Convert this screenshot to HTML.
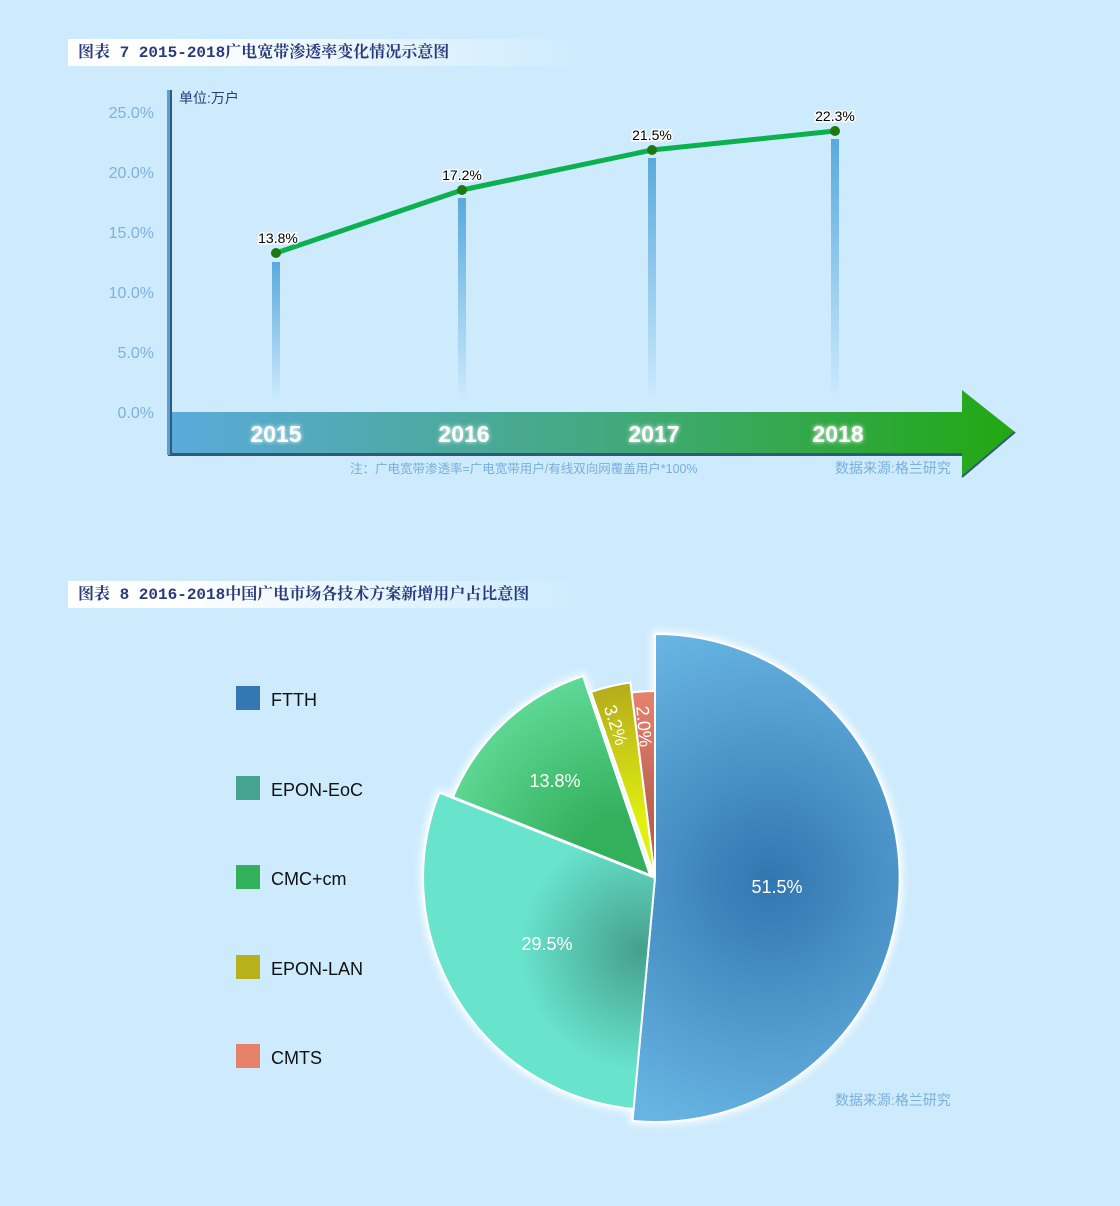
<!DOCTYPE html>
<html><head><meta charset="utf-8"><style>
body{margin:0;width:1120px;height:1206px;background:#cdebfd;overflow:hidden;font-family:"Liberation Sans","Noto Sans CJK SC",sans-serif}
.t{position:absolute;left:68px;height:27px;width:520px;background:linear-gradient(90deg,#fff 0%,#fff 20%,#cdebfd 100%);font-family:"Liberation Mono","Noto Serif CJK SC",serif;font-weight:bold;color:#2b3b7a;font-size:16px;line-height:28px;padding-left:10px;box-sizing:border-box}
</style></head><body>
<div class="t" style="top:39px">图表 7 2015-2018广电宽带渗透率变化情况示意图</div>
<div class="t" style="top:581px">图表 8 2016-2018中国广电市场各技术方案新增用户占比意图</div>
<svg width="1120" height="1206" style="position:absolute;left:0;top:0">
<defs>
<linearGradient id="bar" x1="0" y1="0" x2="0" y2="1"><stop offset="0" stop-color="#5aa9dc"/><stop offset="1" stop-color="#5aa9dc" stop-opacity="0"/></linearGradient>
<linearGradient id="band" x1="0" y1="0" x2="1" y2="0"><stop offset="0" stop-color="#5aaadb"/><stop offset="0.5" stop-color="#44a981"/><stop offset="1" stop-color="#22a812"/></linearGradient>
<filter id="glow" x="-20%" y="-20%" width="140%" height="140%"><feGaussianBlur stdDeviation="2"/></filter>
<filter id="pglow" x="-10%" y="-10%" width="120%" height="120%"><feGaussianBlur stdDeviation="4"/></filter>
<radialGradient id="g1" cx="770" cy="880" r="260" gradientUnits="userSpaceOnUse"><stop offset="0" stop-color="#3276b0"/><stop offset="1" stop-color="#67b4e2"/></radialGradient>
<radialGradient id="g2" cx="640" cy="950" r="200" gradientUnits="userSpaceOnUse"><stop offset="0" stop-color="#45a08c"/><stop offset="0.6" stop-color="#68e3cc"/><stop offset="1" stop-color="#68e3cc"/></radialGradient>
<radialGradient id="g3" cx="620" cy="860" r="210" gradientUnits="userSpaceOnUse"><stop offset="0.2" stop-color="#33b05c"/><stop offset="1" stop-color="#66e0a0"/></radialGradient>
<radialGradient id="g4" cx="655" cy="878" r="197" gradientUnits="userSpaceOnUse"><stop offset="0.3" stop-color="#e0f010"/><stop offset="1" stop-color="#b5ac1c"/></radialGradient>
<radialGradient id="g5" cx="655" cy="878" r="187" gradientUnits="userSpaceOnUse"><stop offset="0.3" stop-color="#b86050"/><stop offset="1" stop-color="#e6826c"/></radialGradient>
</defs>
<g font-size="16" fill="#7fb1dc" text-anchor="end">
<text x="154" y="118">25.0%</text><text x="154" y="178">20.0%</text><text x="154" y="238">15.0%</text><text x="154" y="298">10.0%</text><text x="154" y="358">5.0%</text><text x="154" y="418">0.0%</text></g>
<text x="179" y="103" font-size="14" fill="#2b3b7a">单位:万户</text>
<rect x="272" y="262" width="8" height="140" fill="url(#bar)"/>
<rect x="458" y="198" width="8" height="204" fill="url(#bar)"/>
<rect x="648" y="158" width="8" height="244" fill="url(#bar)"/>
<rect x="831" y="139" width="8" height="263" fill="url(#bar)"/>
<polygon points="168,412 962,412 962,390 1015,432 962,477 962,453 168,453" fill="url(#band)"/>
<polygon points="168,453 962,453 962,456 168,456" fill="#2f5a7a"/>
<line x1="1015" y1="432" x2="962" y2="477" stroke="#2f5a7a" stroke-width="2"/>
<rect x="167" y="90" width="5" height="365" fill="#5aa0d6"/><rect x="170" y="90" width="2" height="365" fill="#2f5a7a"/>
<polyline points="276,253 462,190 652,150 835,131" fill="none" stroke="#0db04e" stroke-width="5" stroke-linejoin="round"/>
<g fill="#1a7a10"><circle cx="276" cy="253" r="5"/><circle cx="462" cy="190" r="5"/><circle cx="652" cy="150" r="5"/><circle cx="835" cy="131" r="5"/></g>
<g font-size="14" text-anchor="middle" fill="#000" stroke="#fff" stroke-width="3" paint-order="stroke">
<text x="278" y="243">13.8%</text><text x="462" y="180">17.2%</text><text x="652" y="140">21.5%</text><text x="835" y="121">22.3%</text></g>
<g font-size="23" font-weight="bold" text-anchor="middle">
<g fill="#fff" filter="url(#glow)"><text x="276" y="442">2015</text><text x="464" y="442">2016</text><text x="654" y="442">2017</text><text x="838" y="442">2018</text></g>
<g fill="#fff"><text x="276" y="442">2015</text><text x="464" y="442">2016</text><text x="654" y="442">2017</text><text x="838" y="442">2018</text></g></g>
<text x="350" y="473" font-size="12.5" fill="#7aaedb">注：广电宽带渗透率=广电宽带用户/有线双向网覆盖用户*100%</text>
<text x="835" y="473" font-size="14" fill="#7aaedb">数据来源:格兰研究</text>
<g font-size="18" fill="#111">
<rect x="236" y="686" width="24" height="24" fill="#3378b0"/><text x="271" y="706">FTTH</text>
<rect x="236" y="776" width="24" height="24" fill="#45a591"/><text x="271" y="796">EPON-EoC</text>
<rect x="236" y="865" width="24" height="24" fill="#33b05c"/><text x="271" y="885">CMC+cm</text>
<rect x="236" y="955" width="24" height="24" fill="#b7b11c"/><text x="271" y="975">EPON-LAN</text>
<rect x="236" y="1044" width="24" height="24" fill="#e5806a"/><text x="271" y="1064">CMTS</text></g>
<g stroke="#fff" stroke-width="6" fill="#fff" filter="url(#pglow)" opacity="0.9">
<path d="M655,878 L655,634 A244,244 0 1 1 632.5,1120.9 Z"/>
<path d="M655,878 L633.6,1109 A232,232 0 0 1 439.3,792.7 Z"/>
<path d="M650,875 L453,797 A212,212 0 0 1 583,676 Z"/>
</g>
<g stroke="#fff" stroke-width="2">
<path d="M655,878 L655,634 A244,244 0 1 1 632.5,1120.9 Z" fill="url(#g1)"/>
<path d="M655,878 L633.6,1109 A232,232 0 0 1 439.3,792.7 Z" fill="url(#g2)"/>
<path d="M650,875 L453,797 A212,212 0 0 1 583,676 Z" fill="url(#g3)"/>
<path d="M655,878 L591,692 A197,197 0 0 1 630.4,682.5 Z" fill="url(#g4)"/>
<path d="M655,878 L631.7,692.5 A187,187 0 0 1 655,691 Z" fill="url(#g5)"/>
</g>
<g font-size="18" fill="#fff" text-anchor="middle">
<text x="777" y="893">51.5%</text><text x="547" y="950">29.5%</text><text x="555" y="787">13.8%</text>
<text transform="translate(610,727) rotate(72)">3.2%</text>
<text transform="translate(638,727) rotate(85)">2.0%</text></g>
<text x="835" y="1105" font-size="14" fill="#7aaedb">数据来源:格兰研究</text>
</svg>
</body></html>
